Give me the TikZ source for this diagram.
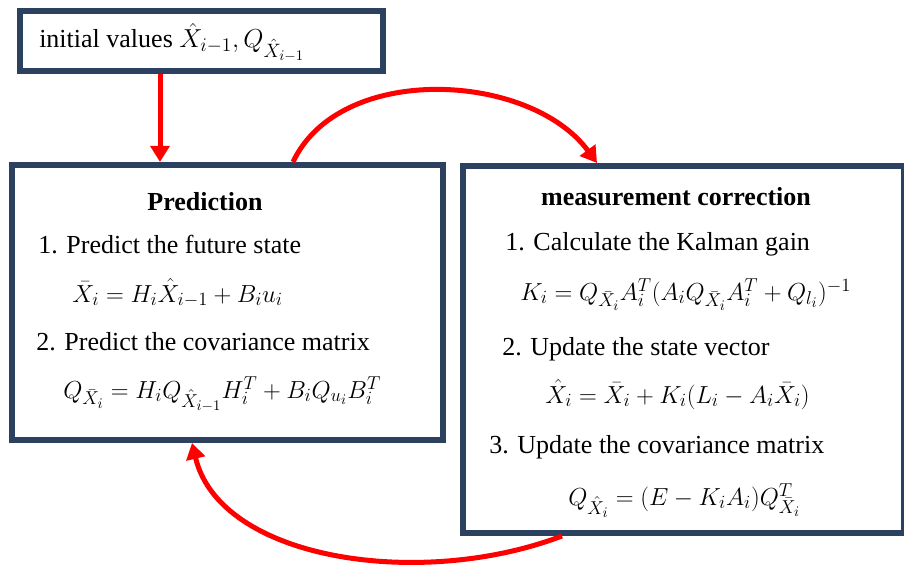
\RequirePackage{fix-cm}
\documentclass[tikz,border=0pt]{standalone}
\usepackage{fontspec}
\setmainfont{Liberation Serif}
\DeclareMathSizes{18.5}{18.5}{14}{11}
\DeclareMathSizes{19.5}{19.5}{14.5}{11}
\usetikzlibrary{arrows.meta}
\definecolor{navy}{RGB}{44,64,96}
\definecolor{arrowred}{RGB}{255,0,0}
\begin{document}
\begin{tikzpicture}[x=0.75pt,y=-0.75pt,
  box/.style={draw=navy, line width=4.5pt, inner sep=0pt, anchor=north west, fill=white},
  txt/.style={anchor=base west, inner sep=0pt, font=\fontsize{19.5}{23}\selectfont},
  ttl/.style={anchor=base, inner sep=0pt, font=\fontsize{19.5}{23}\selectfont\bfseries},
  eq/.style={anchor=base west, inner sep=0pt, font=\fontsize{18.5}{22}\selectfont},
  flow/.style={draw=arrowred, line width=3.75pt, -{Triangle[width=14pt,length=12pt]}}]
\useasboundingbox (0,0) rectangle (904,567);
% boxes
\node[box, minimum width=272.25pt, minimum height=45pt] (init) at (17,8) {};
\node[box, minimum width=323.25pt, minimum height=206.25pt] (pred) at (9,162) {};
\node[box, minimum width=330.75pt, minimum height=275.25pt] (meas) at (460,163) {};
% initial text
\node[txt] (inittxt) at (39,48) {initial values $\hat{X}_{i-1}, Q_{\hat{X}_{i-1}}$};
% prediction
\node[ttl] (predttl) at (205,210) {Prediction};
\node[txt] (p1) at (38,253) {1. Predict the future state};
\node[eq] (pe1) at (72,302) {$\bar{X}_i = H_i\hat{X}_{i-1} + B_i u_i$};
\node[txt] (p2) at (36,350) {2. Predict the covariance matrix};
\node[eq] (pe2) at (63,398) {$Q_{\bar{X}_i} = H_i Q_{\hat{X}_{i-1}} H_i^T + B_i Q_{u_i} B_i^T$};
% measurement correction
\node[ttl] (measttl) at (676,205) {measurement correction};
\node[txt] (m1) at (505,250) {1. Calculate the Kalman gain};
\node[eq] (me1) at (520,300) {$K_i = Q_{\bar{X}_i} A_i^T (A_i Q_{\bar{X}_i} A_i^T + Q_{l_i})^{-1}$};
\node[txt] (m2) at (502,355) {2. Update the state vector};
\node[eq] (me2) at (545,403) {$\hat{X}_i = \bar{X}_i + K_i(L_i - A_i\bar{X}_i)$};
\node[txt] (m3) at (489,453) {3. Update the covariance matrix};
\node[eq] (me3) at (568,505) {$Q_{\hat{X}_i} = (E - K_i A_i) Q^T_{\bar{X}_i}$};
% connectors
\draw[flow] ([xshift=107.25pt]init.south west) -- ([xshift=113.25pt]pred.north west);
\draw[flow] ([xshift=213pt]pred.north west) .. controls (340,62) and (530,72) .. ([xshift=102.75pt]meas.north west);
\draw[flow] ([xshift=76.5pt]meas.south west) .. controls (420,590) and (220,560) .. ([xshift=137.25pt]pred.south west);
\end{tikzpicture}
\end{document}
